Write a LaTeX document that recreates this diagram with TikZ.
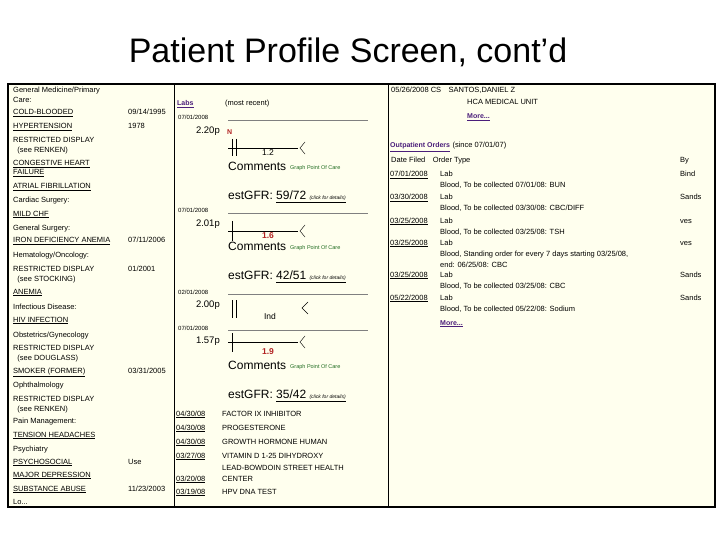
\documentclass[tikz,border=0pt]{standalone}
\usepackage{fontspec}
\setmainfont{Liberation Sans}
\definecolor{cream}{HTML}{FFFFEE}
\definecolor{lnk}{HTML}{4B1E7A}
\definecolor{grn}{HTML}{1E6B1E}
\definecolor{red2}{HTML}{B22222}
\begin{document}
\begin{tikzpicture}[x=1pt,y=-1pt,
  t/.style={anchor=west,inner sep=0pt,text height=5.5pt,text depth=1.5pt,font=\fontsize{7.5}{8}\selectfont},
  lk/.style={t,text=lnk,font=\fontsize{7}{8}\selectfont\bfseries},
  big/.style={anchor=west,inner sep=0pt,text height=9pt,text depth=2pt,font=\fontsize{12}{13}\selectfont},
  gr/.style={anchor=west,inner sep=0pt,text=grn,font=\fontsize{5.5}{6}\selectfont},
  rd/.style={anchor=center,inner sep=0pt,text=red2,font=\bfseries\fontsize{8.5}{9}\selectfont},
  ax/.style={line width=0.8pt}]
\useasboundingbox (0,0) rectangle (720,540);
\node[font=\fontsize{34}{40}\selectfont] (title) at (348,52) {Patient Profile Screen, cont'd};
\draw[fill=cream,line width=1.2pt] (8,84) rectangle (715,507);
\draw (174,84) -- (174,507) (388,84) -- (388,507);
% left column
\foreach \y/\s in {91/{General Medicine/Primary},101/{Care:},201/{Cardiac Surgery:},228/{General Surgery:},256/{Hematology/Oncology:},307/{Infectious Disease:},335/{Obstetrics/Gynecology},385/{Ophthalmology},421/{Pain Management:},449/{Psychiatry},151/{\ \ (see RENKEN)},279/{\ \ (see STOCKING)},358/{\ \ (see DOUGLASS)},409/{\ \ (see RENKEN)},141/{RESTRICTED DISPLAY},269/{RESTRICTED DISPLAY},348/{RESTRICTED DISPLAY},399/{RESTRICTED DISPLAY}}
  \node[t] at (13,\y) {\s};
\node[t] (lo) at (13,502) {Lo...};
\foreach \y/\s in {113/{COLD-BLOODED},127/{HYPERTENSION},164/{CONGESTIVE HEART},173/{FAILURE},187/{ATRIAL FIBRILLATION},214/{MILD CHF},241/{IRON DEFICIENCY ANEMIA},292/{ANEMIA},320/{HIV INFECTION},371/{SMOKER (FORMER)},435/{TENSION HEADACHES},462/{PSYCHOSOCIAL},475/{MAJOR DEPRESSION},489/{SUBSTANCE ABUSE}}
  \node[t] at (13,\y) {\underline{\s}};
\foreach \y/\s in {113/{09/14/1995},127/{1978},241/{07/11/2006},269/{01/2001},371/{03/31/2005},462/{Use},489/{11/23/2003}}
  \node[t] at (128,\y) {\s};
% middle column
\node[lk] (labs) at (177,104) {\underline{Labs}};
\node[t] (mr) at (225,104) {(most recent)};
\foreach \y/\d/\v in {118/{07/01/2008}/{2.20p},211/{07/01/2008}/{2.01p},292/{02/01/2008}/{2.00p},328/{07/01/2008}/{1.57p}}{
  \node[t,font=\fontsize{6}{7}\selectfont] at (178,\y) {\d};
  \draw[gray] (228,\y+2) -- (368,\y+2);
  \node[anchor=east,inner sep=0pt,font=\fontsize{9.5}{10}\selectfont] at (220,\y+13) {\v};}
\node[anchor=west,inner sep=0pt,text=red2,font=\bfseries\fontsize{7}{8}\selectfont] at (227,132) {N};
% graph 1
\draw[ax] (232,139) -- (232,156) (236,139) -- (236,156) (228,148) -- (298,148);
\draw (305,142) -- (300,148) -- (305,154);
\node[anchor=center,inner sep=0pt,font=\fontsize{8.5}{9}\selectfont] at (268,153) {1.2};
% graph 2
\draw[ax] (232,221) -- (232,241) (228,231) -- (298,231);
\draw (305,225) -- (300,231) -- (305,237);
\node[rd] at (268,236) {1.6};
% graph 3
\draw[ax] (232,300) -- (232,318) (236,300) -- (236,318);
\draw (308,302) -- (302,308) -- (308,314);
\node[anchor=center,inner sep=0pt,font=\fontsize{8.5}{9}\selectfont] at (270,316) {Ind};
% graph 4
\draw[ax] (232,333) -- (232,352) (228,342) -- (298,342);
\draw (305,336) -- (300,342) -- (305,348);
\node[rd] at (268,352) {1.9};
\foreach \y/\g in {167/{59/72},247/{42/51},366/{35/42}}{
  \node[big] at (228,\y) {Comments};
  \node[gr] at (290,\y+1) {Graph Point Of Care};
  \node[big] at (228,\y+29) {estGFR: \underline{\g\ {\fontsize{5}{6}\selectfont\itshape(click for details)}}};}
\foreach \y/\d/\s in {414/{04/30/08}/{FACTOR IX INHIBITOR},428/{04/30/08}/{PROGESTERONE},442/{04/30/08}/{GROWTH HORMONE HUMAN},456/{03/27/08}/{VITAMIN D 1-25 DIHYDROXY},479/{03/20/08}/{CENTER},492/{03/19/08}/{HPV DNA TEST}}{
  \node[t] at (176,\y) {\underline{\d}};
  \node[t] at (222,\y) {\s};}
\node[t] at (222,468) {LEAD-BOWDOIN STREET HEALTH};
% right column
\node[t] (top) at (391,91) {05/26/2008 CS\quad SANTOS,DANIEL Z};
\node[t] at (467,103) {HCA MEDICAL UNIT};
\node[lk] (more1) at (467,117) {\underline{More...}};
\node[lk] (oo) at (390,146) {\underline{Outpatient Orders}};
\node[t,anchor=west,xshift=2pt] at (oo.east) {(since 07/01/07)};
\node[t] at (391,161) {Date Filed\quad Order Type};
\node[t] at (680,161) {By};
\foreach \y/\d/\s/\b in {175/{07/01/2008}/{Blood, To be collected 07/01/08: BUN}/{Bind},198/{03/30/2008}/{Blood, To be collected 03/30/08: CBC/DIFF}/{Sands},221/{03/25/2008}/{Blood, To be collected 03/25/08: TSH}/{ves},243/{03/25/2008}/{Blood, Standing order for every 7 days starting 03/25/08,}/{ves},275/{03/25/2008}/{Blood, To be collected 03/25/08: CBC}/{Sands},298/{05/22/2008}/{Blood, To be collected 05/22/08: Sodium}/{Sands}}{
  \node[t] at (390,\y) {\underline{\d}};
  \node[t] at (440,\y) {Lab};
  \node[t] at (440,\y+11) {\s};
  \node[t] at (680,\y) {\b};}
\node[t] at (440,265) {end: 06/25/08: CBC};
\node[lk] (more2) at (440,323) {\underline{More...}};
\end{tikzpicture}
\end{document}
